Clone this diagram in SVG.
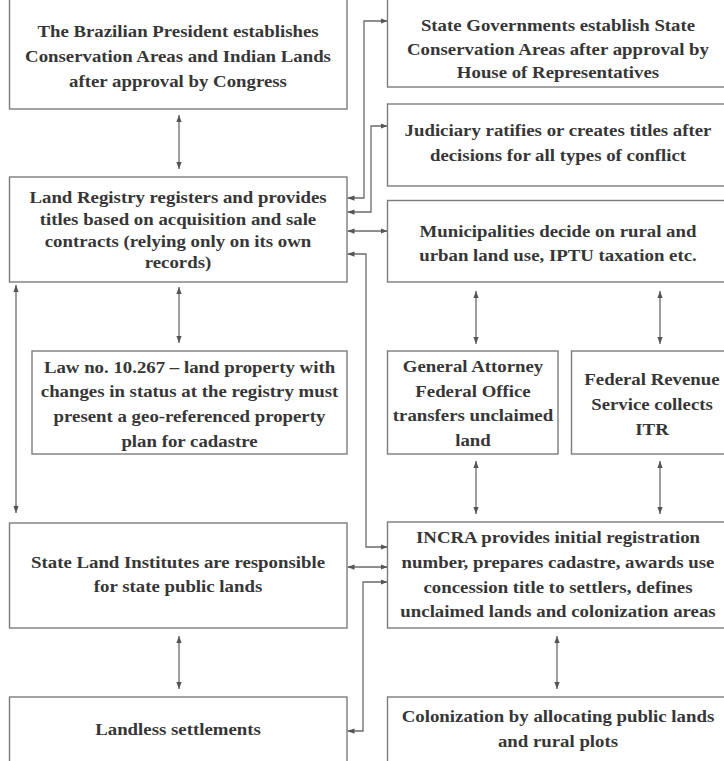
<svg xmlns="http://www.w3.org/2000/svg" width="724" height="761" viewBox="0 0 724 761">
<defs>
<marker id="ah" viewBox="0 0 8 6" refX="8" refY="3" markerWidth="7" markerHeight="5.5" markerUnits="userSpaceOnUse" orient="auto-start-reverse">
<path d="M0,0 L8,3 L0,6 Z" fill="#555"/>
</marker>
<style>
.box{fill:#ffffff;stroke:#7c7c7c;stroke-width:1.4}
.t{font-family:"Liberation Serif","Times New Roman",serif;font-weight:bold;font-size:16.8px;fill:#363636;text-anchor:middle}
.c{fill:none;stroke:#6a6a6a;stroke-width:1.3;marker-start:url(#ah);marker-end:url(#ah)}
</style>
</defs>
<rect width="724" height="761" fill="#ffffff"/>
<g id="connectors">
<line class="c" x1="179" y1="115" x2="179" y2="169"/>
<line class="c" x1="179" y1="287" x2="179" y2="343"/>
<line class="c" x1="16" y1="285" x2="16" y2="513"/>
<line class="c" x1="179" y1="636" x2="179" y2="689"/>
<path class="c" d="M347.5,198 H364 V21 H387.5"/>
<path class="c" d="M347.5,212 H371 V126 H387.5"/>
<path class="c" d="M347.5,231 H387.5"/>
<path class="c" d="M347.5,254 H366 V547 H387.5"/>
<path class="c" d="M347.5,567 H387.5"/>
<path class="c" d="M347.5,731 H363 V582 H387.5"/>
<line class="c" x1="476" y1="291" x2="476" y2="344"/>
<line class="c" x1="660" y1="291" x2="660" y2="344"/>
<line class="c" x1="476" y1="461" x2="476" y2="514"/>
<line class="c" x1="660" y1="461" x2="660" y2="514"/>
<line class="c" x1="557" y1="636" x2="557" y2="689"/>
</g>
<g id="president">
<rect class="box" x="9.5" y="-2" width="337.5" height="111"/>
<g transform="translate(178 0) scale(1.12 1)">
<text class="t" x="0" y="37">The Brazilian President establishes</text>
<text class="t" x="0" y="62">Conservation Areas and Indian Lands</text>
<text class="t" x="0" y="87">after approval by Congress</text>
</g>
</g>
<g id="land-registry">
<rect class="box" x="9.5" y="177" width="337.5" height="105"/>
<g transform="translate(178 0) scale(1.12 1)">
<text class="t" x="0" y="203">Land Registry registers and provides</text>
<text class="t" x="0" y="225">titles based on acquisition and sale</text>
<text class="t" x="0" y="247">contracts (relying only on its own</text>
<text class="t" x="0" y="268">records)</text>
</g>
</g>
<g id="law">
<rect class="box" x="32" y="351" width="315" height="103"/>
<g transform="translate(189.5 0) scale(1.12 1)">
<text class="t" x="0" y="373">Law no. 10.267 – land property with</text>
<text class="t" x="0" y="397">changes in status at the registry must</text>
<text class="t" x="0" y="422">present a geo-referenced property</text>
<text class="t" x="0" y="447">plan for cadastre</text>
</g>
</g>
<g id="state-land-institutes">
<rect class="box" x="9.5" y="523" width="337.5" height="105"/>
<g transform="translate(178 0) scale(1.12 1)">
<text class="t" x="0" y="568">State Land Institutes are responsible</text>
<text class="t" x="0" y="592">for state public lands</text>
</g>
</g>
<g id="landless">
<rect class="box" x="9.5" y="697" width="337.5" height="80"/>
<g transform="translate(178 0) scale(1.12 1)">
<text class="t" x="0" y="735">Landless settlements</text>
</g>
</g>
<g id="state-governments">
<rect class="box" x="387.5" y="-2" width="341.5" height="89"/>
<g transform="translate(558 0) scale(1.12 1)">
<text class="t" x="0" y="31.5">State Governments establish State</text>
<text class="t" x="0" y="55">Conservation Areas after approval by</text>
<text class="t" x="0" y="78">House of Representatives</text>
</g>
</g>
<g id="judiciary">
<rect class="box" x="387.5" y="104" width="341.5" height="82"/>
<g transform="translate(558 0) scale(1.12 1)">
<text class="t" x="0" y="136">Judiciary ratifies or creates titles after</text>
<text class="t" x="0" y="161">decisions for all types of conflict</text>
</g>
</g>
<g id="municipalities">
<rect class="box" x="387.5" y="200.5" width="341.5" height="81.5"/>
<g transform="translate(558 0) scale(1.12 1)">
<text class="t" x="0" y="237">Municipalities decide on rural and</text>
<text class="t" x="0" y="261">urban land use, IPTU taxation etc.</text>
</g>
</g>
<g id="attorney">
<rect class="box" x="387.5" y="351" width="170.5" height="103"/>
<g transform="translate(473 0) scale(1.12 1)">
<text class="t" x="0" y="372">General Attorney</text>
<text class="t" x="0" y="397">Federal Office</text>
<text class="t" x="0" y="421">transfers unclaimed</text>
<text class="t" x="0" y="446">land</text>
</g>
</g>
<g id="revenue">
<rect class="box" x="571.5" y="351" width="160" height="103"/>
<g transform="translate(652 0) scale(1.12 1)">
<text class="t" x="0" y="385">Federal Revenue</text>
<text class="t" x="0" y="410">Service collects</text>
<text class="t" x="0" y="435">ITR</text>
</g>
</g>
<g id="incra">
<rect class="box" x="387.5" y="522" width="341.5" height="106"/>
<g transform="translate(558 0) scale(1.12 1)">
<text class="t" x="0" y="543">INCRA provides initial registration</text>
<text class="t" x="0" y="568">number, prepares cadastre, awards use</text>
<text class="t" x="0" y="593">concession title to settlers, defines</text>
<text class="t" x="0" y="617">unclaimed lands and colonization areas</text>
</g>
</g>
<g id="colonization">
<rect class="box" x="387.5" y="697" width="341.5" height="80"/>
<g transform="translate(558 0) scale(1.12 1)">
<text class="t" x="0" y="722">Colonization by allocating public lands</text>
<text class="t" x="0" y="747">and rural plots</text>
</g>
</g>
</svg>
